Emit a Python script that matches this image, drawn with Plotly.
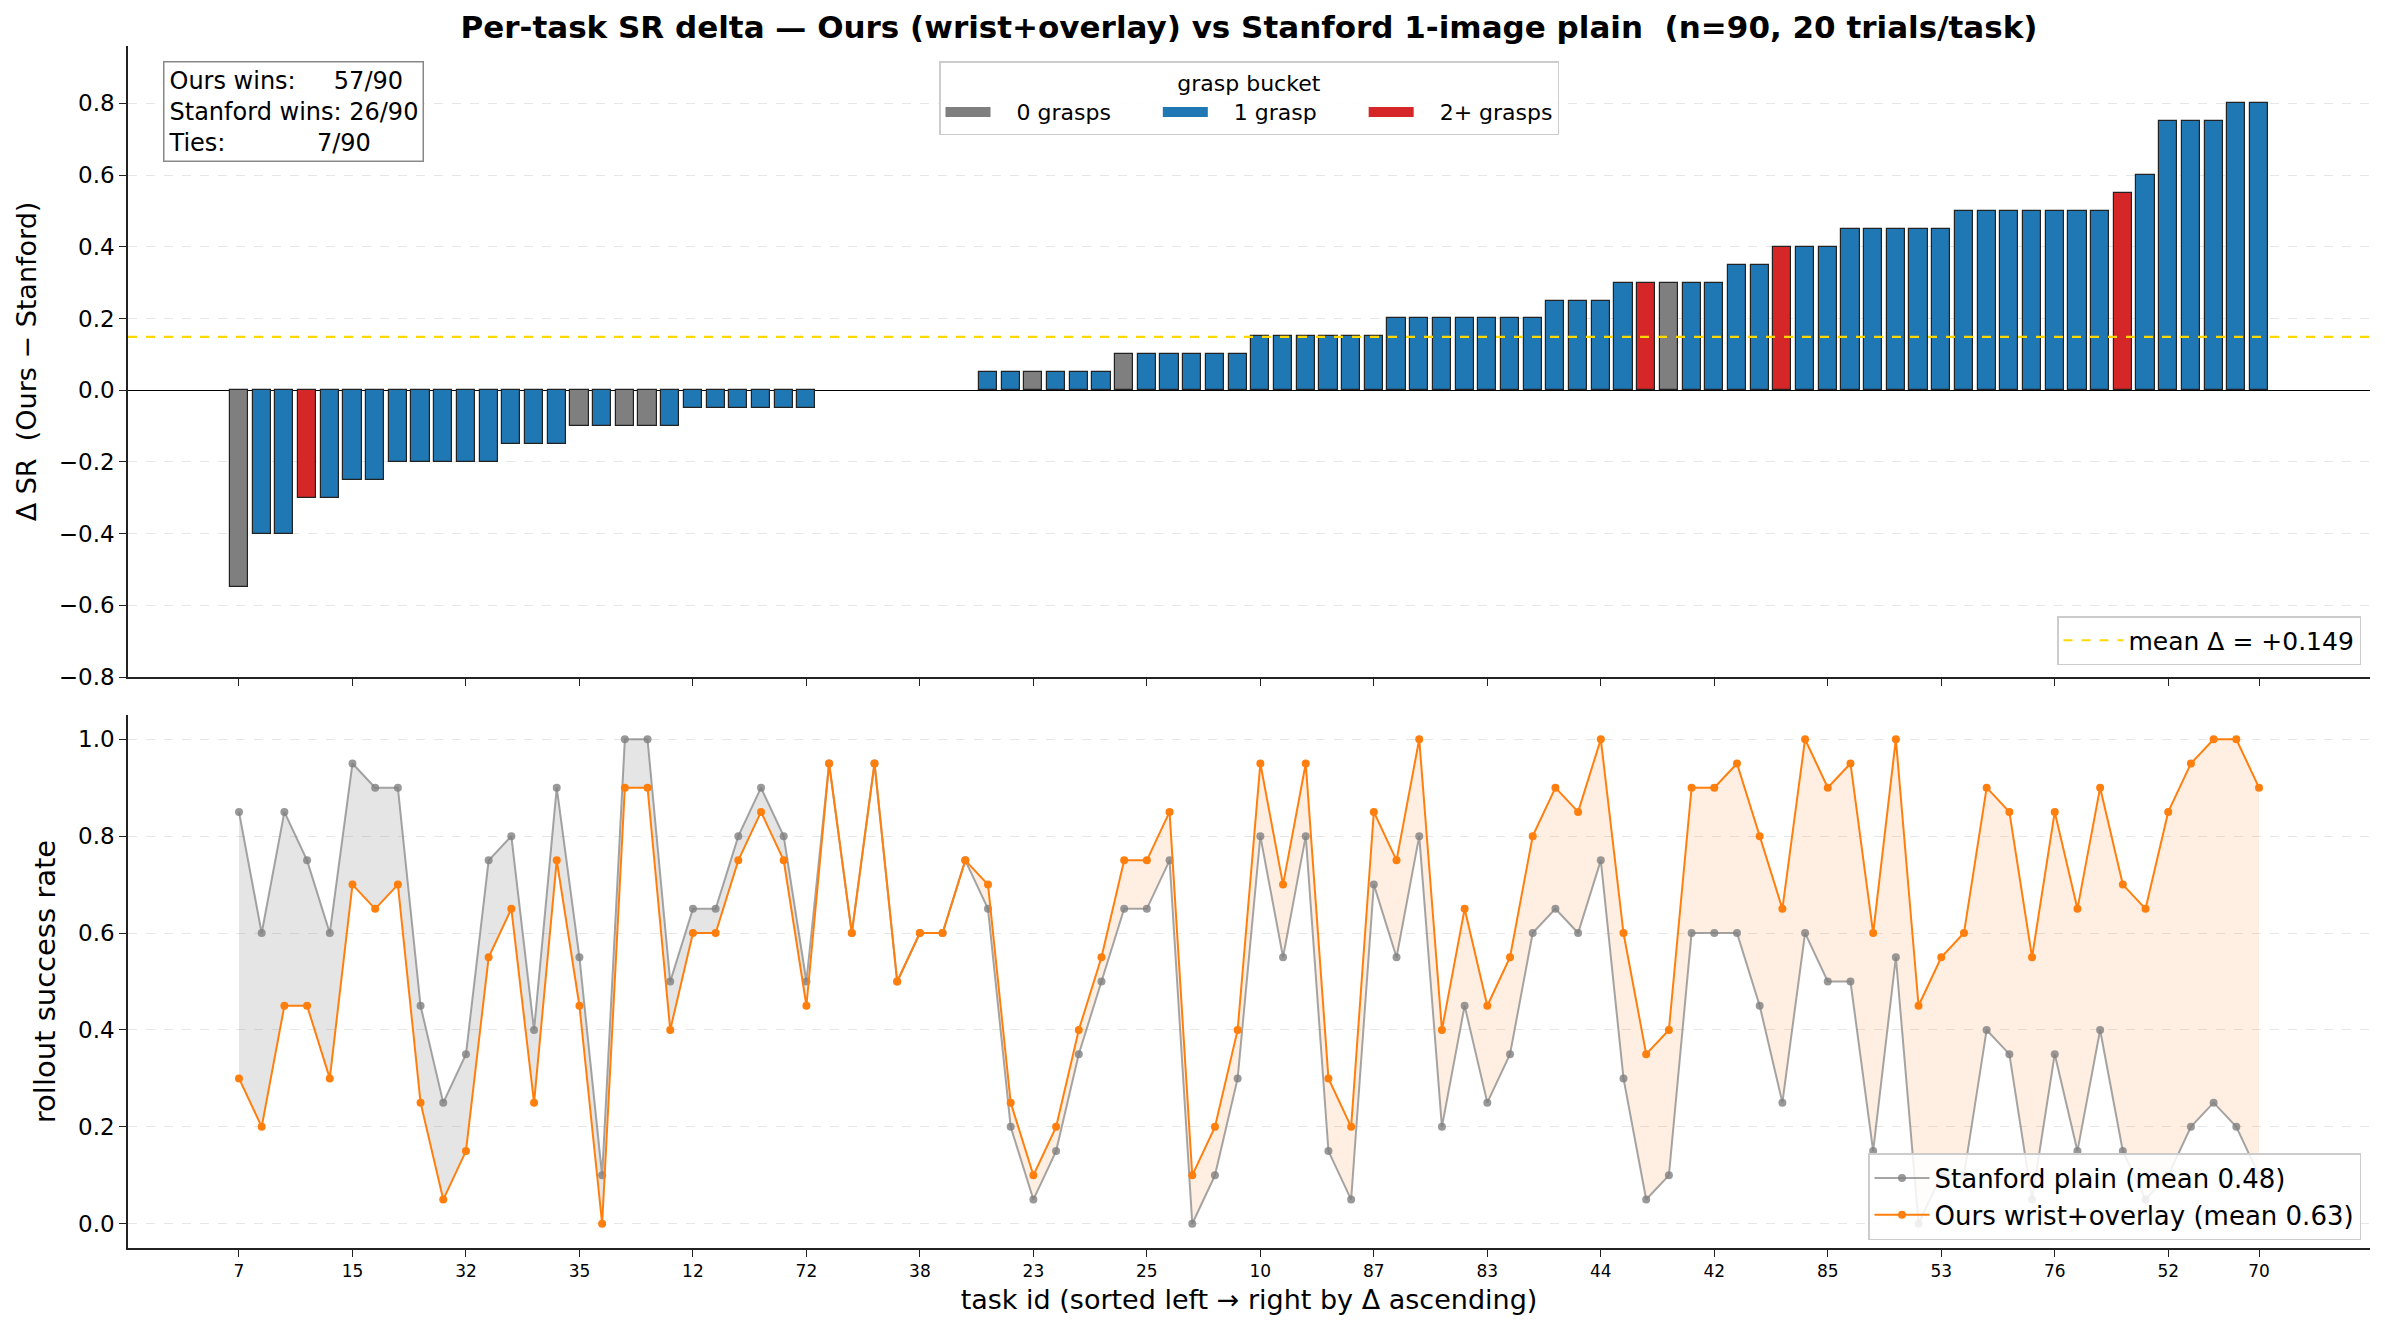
import numpy as np
import plotly.graph_objects as go

# ---------------- data ----------------
stanford = [0.85, 0.60, 0.85, 0.75, 0.60, 0.95, 0.90, 0.90, 0.45, 0.25,
            0.35, 0.75, 0.80, 0.40, 0.90, 0.55, 0.10, 1.00, 1.00, 0.50,
            0.65, 0.65, 0.80, 0.90, 0.80, 0.50,
            0.95, 0.60, 0.95, 0.50, 0.60, 0.60, 0.75,
            0.65, 0.20, 0.05, 0.15, 0.35, 0.50,
            0.65, 0.65, 0.75, 0.00, 0.10, 0.30,
            0.80, 0.55, 0.80, 0.15, 0.05, 0.70,
            0.55, 0.80, 0.20, 0.45, 0.25, 0.35, 0.60,
            0.65, 0.60, 0.75,
            0.30, 0.05, 0.10, 0.60, 0.60,
            0.60, 0.45,
            0.25, 0.60, 0.50,
            0.50, 0.15, 0.55, 0.00, 0.10,
            0.10, 0.40, 0.35, 0.05, 0.35, 0.15, 0.40,
            0.15, 0.05,
            0.10, 0.20, 0.25,
            0.20, 0.10]

ours = [0.30, 0.20, 0.45, 0.45, 0.30, 0.70, 0.65, 0.70, 0.25, 0.05,
        0.15, 0.55, 0.65, 0.25, 0.75, 0.45, 0.00, 0.90, 0.90, 0.40,
        0.60, 0.60, 0.75, 0.85, 0.75, 0.45,
        0.95, 0.60, 0.95, 0.50, 0.60, 0.60, 0.75,
        0.70, 0.25, 0.10, 0.20, 0.40, 0.55,
        0.75, 0.75, 0.85, 0.10, 0.20, 0.40,
        0.95, 0.70, 0.95, 0.30, 0.20, 0.85,
        0.75, 1.00, 0.40, 0.65, 0.45, 0.55, 0.80,
        0.90, 0.85, 1.00,
        0.60, 0.35, 0.40, 0.90, 0.90,
        0.95, 0.80,
        0.65, 1.00, 0.90,
        0.95, 0.60, 1.00, 0.45, 0.55,
        0.60, 0.90, 0.85, 0.55, 0.85, 0.65, 0.90,
        0.70, 0.65,
        0.85, 0.95, 1.00,
        1.00, 0.90]

delta = [-0.55, -0.40, -0.40, -0.30, -0.30, -0.25, -0.25, -0.20, -0.20, -0.20,
         -0.20, -0.20, -0.15, -0.15, -0.15, -0.10, -0.10, -0.10, -0.10, -0.10,
         -0.05, -0.05, -0.05, -0.05, -0.05, -0.05,
         0.0, 0.0, 0.0, 0.0, 0.0, 0.0, 0.0,
         0.05, 0.05, 0.05, 0.05, 0.05, 0.05,
         0.10, 0.10, 0.10, 0.10, 0.10, 0.10,
         0.15, 0.15, 0.15, 0.15, 0.15, 0.15,
         0.20, 0.20, 0.20, 0.20, 0.20, 0.20, 0.20,
         0.25, 0.25, 0.25,
         0.30, 0.30, 0.30, 0.30, 0.30,
         0.35, 0.35,
         0.40, 0.40, 0.40,
         0.45, 0.45, 0.45, 0.45, 0.45,
         0.50, 0.50, 0.50, 0.50, 0.50, 0.50, 0.50,
         0.55, 0.60,
         0.75, 0.75, 0.75,
         0.80, 0.80]

# grasp bucket: 0 = 0 grasps, 1 = 1 grasp, 2 = 2+ grasps
bucket = [0, 1, 1, 2, 1, 1, 1, 1, 1, 1,
          1, 1, 1, 1, 1, 0, 1, 0, 0, 1,
          1, 1, 1, 1, 1, 1,
          1, 1, 1, 1, 1, 1, 1,
          1, 1, 0, 1, 1, 1,
          0, 1, 1, 1, 1, 1,
          1, 1, 1, 1, 1, 1,
          1, 1, 1, 1, 1, 1, 1,
          1, 1, 1,
          1, 2, 0, 1, 1,
          1, 1,
          2, 1, 1,
          1, 1, 1, 1, 1,
          1, 1, 1, 1, 1, 1, 1,
          2, 1,
          1, 1, 1,
          1, 1]

tick_positions = [0, 5, 10, 15, 20, 25, 30, 35, 40, 45, 50, 55, 60, 65, 70, 75, 80, 85, 89]
tick_labels = ["7", "15", "32", "35", "12", "72", "38", "23", "25", "10",
               "87", "83", "44", "42", "85", "53", "76", "52", "70"]

bucket_names = ["0 grasps", "1 grasp", "2+ grasps"]
bucket_colors = ["#7f7f7f", "#1f77b4", "#d62728"]

# ---------------- figure ----------------
FONT = "DejaVu Sans"
NB = chr(160)
S = np.array(stanford)
O = np.array(ours)
D = np.array(delta)
B = np.array(bucket)
n = len(D)
idx = np.arange(n)
mean_d = D.mean()
wins = int((D > 0).sum())
losses = int((D < 0).sum())
ties = int((D == 0).sum())

xr = [-0.4 - 0.05 * (n - 1 + 0.8), n - 1 + 0.4 + 0.05 * (n - 1 + 0.8)]

fig = go.Figure()

for b in range(3):
    m = (B == b) & (D != 0)
    fig.add_trace(go.Bar(
        x=idx[m], y=D[m], name=bucket_names[b], width=0.8,
        marker=dict(color=bucket_colors[b], line=dict(color="#222222", width=1.2)),
        xaxis="x", yaxis="y", showlegend=False))
    # legend patch (wide rectangle like the reference legend)
    label = NB * 3 + bucket_names[b] + (NB * 6 if b < 2 else "")
    fig.add_trace(go.Scatter(
        x=[None], y=[None], mode="lines", name=label,
        line=dict(color=bucket_colors[b], width=18),
        xaxis="x", yaxis="y", legend="legend", showlegend=True))

fig.add_trace(go.Scatter(
    x=xr, y=[mean_d, mean_d], mode="lines",
    line=dict(color="#FFD700", width=2.2, dash="dash"),
    name=f"mean Δ = {mean_d:+.3f}", xaxis="x", yaxis="y", legend="legend3"))

# fills between curves
neg = idx[D < 0]
pos = idx[D >= 0]
for sel, col in [(neg, "rgba(127,127,127,0.2)"), (pos, "rgba(255,127,14,0.12)")]:
    fig.add_trace(go.Scatter(x=sel, y=O[sel], mode="lines", line=dict(width=0),
                             showlegend=False, hoverinfo="skip", xaxis="x2", yaxis="y2"))
    fig.add_trace(go.Scatter(x=sel, y=S[sel], mode="lines", line=dict(width=0),
                             fill="tonexty", fillcolor=col,
                             showlegend=False, hoverinfo="skip", xaxis="x2", yaxis="y2"))

fig.add_trace(go.Scatter(
    x=idx, y=S, mode="lines+markers", name=f"Stanford plain (mean {S.mean():.2f})",
    line=dict(color="rgba(127,127,127,0.7)", width=2),
    marker=dict(color="rgba(127,127,127,0.8)", size=8),
    xaxis="x2", yaxis="y2", legend="legend2"))
fig.add_trace(go.Scatter(
    x=idx, y=O, mode="lines+markers", name=f"Ours wrist+overlay (mean {O.mean():.2f})",
    line=dict(color="#ff7f0e", width=2),
    marker=dict(color="#ff7f0e", size=8),
    xaxis="x2", yaxis="y2", legend="legend2"))

W, H = 2385, 1332
L, R, T, Bm = 128, 15, 46, 84
ph = H - T - Bm

def ydom(top_px, bot_px):
    return [(H - Bm - bot_px) / ph, (H - Bm - top_px) / ph]

axis_common = dict(showline=True, linecolor="#222222", linewidth=1.5, ticks="outside",
                   ticklen=7, tickwidth=1.3, tickcolor="#222222", mirror=False,
                   automargin=False)

fig.update_layout(
    width=W, height=H,
    margin=dict(l=L, r=R, t=T, b=Bm),
    paper_bgcolor="white", plot_bgcolor="white",
    font=dict(family=FONT, color="black", size=22),
    title=dict(text="<b>Per-task SR delta — Ours (wrist+overlay) vs Stanford 1-image plain  (n=90, 20 trials/task)</b>",
               x=(L + (W - L - R) / 2) / W, xanchor="center", y=1 - 27 / H, yanchor="middle",
               yref="container", font=dict(size=31, family=FONT)),
    bargap=0,
    xaxis=dict(domain=[0, 1], anchor="y", range=xr, tickvals=tick_positions,
               showticklabels=False, showgrid=False, zeroline=False, **axis_common),
    yaxis=dict(domain=ydom(46, 677), anchor="x", range=[-0.8, 0.96],
               tickvals=[-0.8, -0.6, -0.4, -0.2, 0.0, 0.2, 0.4, 0.6, 0.8], tickformat=".1f",
               showgrid=True, gridcolor="#e6e6e6", griddash="dash", gridwidth=1,
               zeroline=True, zerolinecolor="#000000", zerolinewidth=1.4,
               tickfont=dict(size=23),
               title=dict(text="Δ SR  (Ours − Stanford)", font=dict(size=27), standoff=14),
               **axis_common),
    xaxis2=dict(domain=[0, 1], anchor="y2", range=xr, tickvals=tick_positions,
                ticktext=tick_labels, tickfont=dict(size=17), showgrid=False, zeroline=False,
                title=dict(text="task id (sorted left → right by Δ ascending)", font=dict(size=27),
                           standoff=10),
                **axis_common),
    yaxis2=dict(domain=ydom(715, 1248), anchor="x2", range=[-0.05, 1.05],
                tickvals=[0.0, 0.2, 0.4, 0.6, 0.8, 1.0], tickformat=".1f",
                showgrid=True, gridcolor="#e6e6e6", griddash="dash", gridwidth=1,
                zeroline=False, tickfont=dict(size=23),
                title=dict(text="rollout success rate", font=dict(size=29), standoff=14),
                **axis_common),
    legend=dict(orientation="h", x=0.5, xanchor="center", y=(H - Bm - 61) / ph, yanchor="top",
                traceorder="normal",
                bgcolor="rgba(255,255,255,0.9)", bordercolor="#cccccc", borderwidth=1.5,
                title=dict(text="grasp bucket", side="top center", font=dict(size=22)),
                font=dict(size=22), itemwidth=45),
    legend2=dict(x=(2361 - L) / (W - L - R), xanchor="right", y=(H - Bm - 1240) / ph, yanchor="bottom",
                 traceorder="normal",
                 bgcolor="rgba(255,255,255,0.85)", bordercolor="#cccccc", borderwidth=1.5,
                 font=dict(size=26), itemwidth=55),
    legend3=dict(x=(2361 - L) / (W - L - R), xanchor="right", y=(H - Bm - 665) / ph, yanchor="bottom",
                 bgcolor="rgba(255,255,255,0.85)", bordercolor="#cccccc", borderwidth=1.5,
                 font=dict(size=25), itemwidth=60),
)

box_text = (f"Ours wins:{NB * 5}{wins}/{n}<br>"
            f"Stanford wins: {losses}/{n}<br>"
            f"Ties:{NB * 12}{ties}/{n}")
fig.add_annotation(text=box_text, xref="paper", yref="paper",
                   x=(163 - L) / (W - L - R), y=(H - Bm - 61) / ph, xanchor="left", yanchor="top",
                   align="left", showarrow=False, font=dict(size=24, family=FONT),
                   bgcolor="white", bordercolor="#888888", borderwidth=1.5, borderpad=4)

fig.write_html("out.html")
